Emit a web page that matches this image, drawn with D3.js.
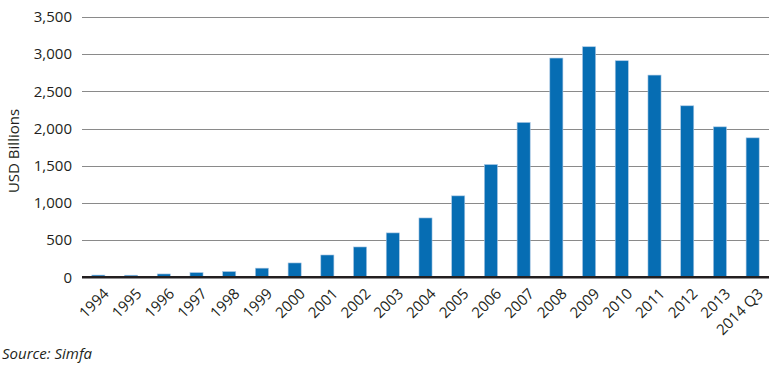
<!DOCTYPE html>
<html><head><meta charset="utf-8">
<script src="https://cdn.jsdelivr.net/npm/d3@7"></script>
<style>body{margin:0;background:#fff;} text{font-family:"Open Sans",Lato,sans-serif;fill:#231f20;}</style>
</head><body>
<svg id="c" width="779" height="367"></svg>
<script>
const categories = ["1994","1995","1996","1997","1998","1999","2000","2001","2002","2003","2004","2005","2006","2007","2008","2009","2010","2011","2012","2013","2014 Q3"];
const values = [30,28,45,63,77,123,193,300,408,597,798,1095,1516,2082,2948,3100,2912,2719,2306,2023,1875];
const yTicks = [0,500,1000,1500,2000,2500,3000,3500];
const yTitle = "USD Billions";
const source = "Source: Simfa";

(function(){
const svg = d3.select("#c");
const mLeft = 82, mRight = 769, mTop = 17, mBottom = 277.3;
const fs = "15px";
const x = d3.scaleBand().domain(categories).range([mLeft, mRight]).paddingInner(0.6).paddingOuter(0.3);
const y = d3.scaleLinear().domain([0, 3500]).range([mBottom, mTop]);

svg.append("g").selectAll("line").data(yTicks.filter(d => d > 0)).join("line")
  .attr("x1", mLeft).attr("x2", mRight)
  .attr("y1", d => Math.round(y(d)) + 0.5).attr("y2", d => Math.round(y(d)) + 0.5)
  .attr("stroke", "#8a8a8a").attr("stroke-width", 1);

svg.append("g").selectAll("text").data(yTicks).join("text")
  .attr("x", 72).attr("y", d => y(d)).attr("dy", "0.35em")
  .attr("text-anchor", "end").style("font-size", fs)
  .text(d => d3.format(",")(d));

svg.append("g").selectAll("rect").data(values).join("rect")
  .attr("x", (d, i) => x(categories[i]))
  .attr("width", x.bandwidth())
  .attr("y", d => y(d))
  .attr("height", d => y(0) - y(d))
  .attr("fill", "#066db3")
  .attr("stroke", "#a8c6e3").attr("stroke-width", 0.6);

svg.append("line").attr("x1", mLeft).attr("x2", mRight)
  .attr("y1", y(0)).attr("y2", y(0))
  .attr("stroke", "#231f20").attr("stroke-width", 2.5);

svg.append("g").selectAll("text").data(categories).join("text")
  .attr("transform", d => `translate(${x(d) + x.bandwidth()/2 + 4},${mBottom + 10}) rotate(-45)`)
  .attr("text-anchor", "end").attr("dy", "0.7em")
  .style("font-size", fs)
  .text(d => d);

svg.append("text")
  .attr("transform", `translate(14,151) rotate(-90)`)
  .attr("text-anchor", "middle").attr("dy", "0.35em")
  .style("font-size", fs)
  .text(yTitle);

svg.append("text").attr("x", 2).attr("y", 359)
  .style("font-size", fs).style("font-style", "italic")
  .text(source);
})();
</script>
</body></html>
